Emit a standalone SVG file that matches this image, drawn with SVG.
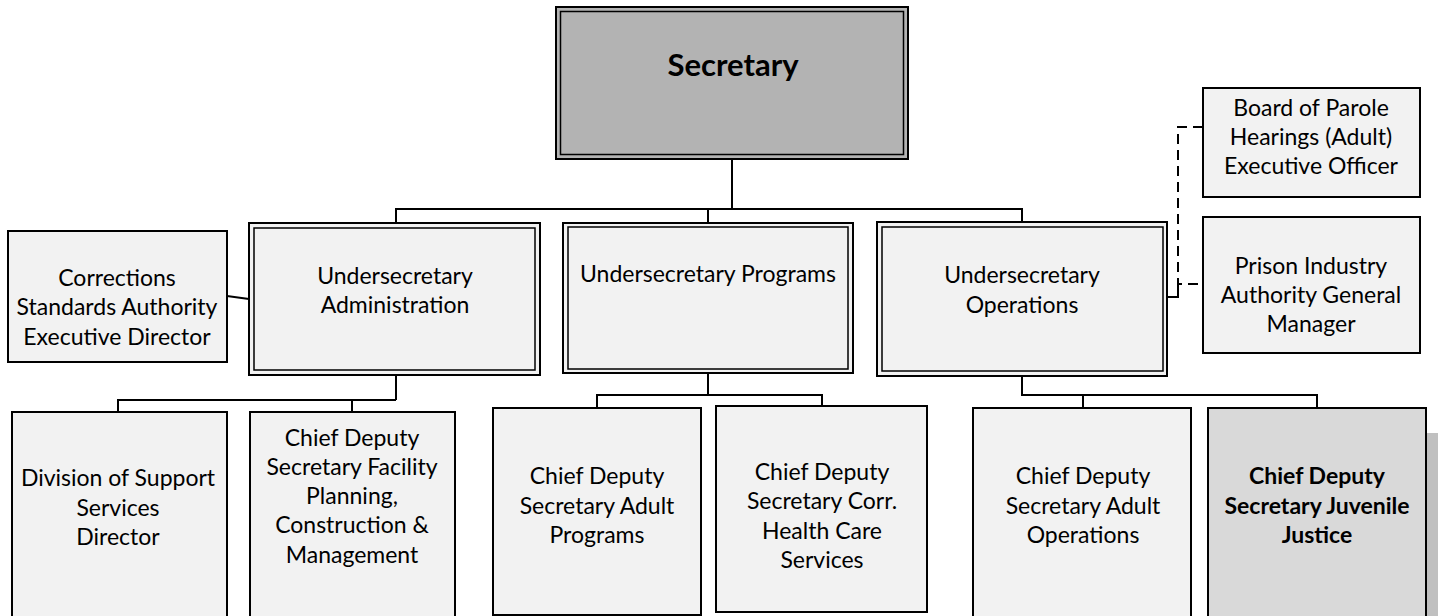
<svg xmlns="http://www.w3.org/2000/svg" width="1438" height="616" viewBox="0 0 1438 616">
<style>
  .box { fill: #f2f2f2; stroke: #000; stroke-width: 2; }
  .dbl { fill: none; stroke: #000; stroke-width: 1.5; }
  .t { font-family: Lato, "Liberation Sans", sans-serif; font-size: 23px; fill: #000; text-anchor: middle; }
  .b { font-weight: bold; }
  .ln { fill: none; stroke: #000; stroke-width: 2; }
  .dash { fill: none; stroke: #000; stroke-width: 2; stroke-dasharray: 10 6; }
</style>
<rect width="1438" height="616" fill="#fff"/>

<g id="connectors">
  <path class="ln" d="M732 158 V209 M396 222 V209 H1022 V222 M708 209 V222"/>
  <path class="ln" d="M227 296 L249 299"/>
  <path class="ln" d="M396 375 V400 M118 412 V400 H396 M352 400 V412"/>
  <path class="ln" d="M708 373 V395 M597 408 V395 H822 V406"/>
  <path class="ln" d="M1022 376 V395 H1317 V408 M1083 395 V408"/>
  <path class="ln" d="M1167 297 H1178 V284"/>
  <path class="dash" d="M1203 127 H1178 V284 H1203"/>
</g>

<g id="secretary">
  <rect x="556" y="7" width="352" height="152" fill="#b3b3b3" stroke="#000" stroke-width="2"/>
  <rect x="560.5" y="11.5" width="343" height="143" class="dbl"/>
  <text x="733" y="76" class="t b" style="font-size:31px">Secretary</text>
</g>

<g id="corrections">
  <rect x="8" y="231" width="219" height="131" class="box"/>
  <text class="t"><tspan x="117" y="286">Corrections</tspan><tspan x="117" y="315">Standards Authority</tspan><tspan x="117" y="345">Executive Director</tspan></text>
</g>

<g id="us-admin">
  <rect x="249" y="223" width="291" height="152" class="box" stroke-width="1.5"/>
  <rect x="254" y="228" width="281" height="142" class="dbl" stroke-width="2"/>
  <text class="t"><tspan x="395" y="284">Undersecretary</tspan><tspan x="395" y="313">Administration</tspan></text>
</g>

<g id="us-programs">
  <rect x="563" y="223" width="290" height="150" class="box" stroke-width="1.5"/>
  <rect x="568" y="227" width="280" height="142" class="dbl" stroke-width="2"/>
  <text x="708" y="282" class="t">Undersecretary Programs</text>
</g>

<g id="us-operations">
  <rect x="877" y="222" width="290" height="154" class="box" stroke-width="1.5"/>
  <rect x="882" y="227" width="281" height="144" class="dbl" stroke-width="2"/>
  <text class="t"><tspan x="1022" y="283">Undersecretary</tspan><tspan x="1022" y="313">Operations</tspan></text>
</g>

<g id="board-parole">
  <rect x="1203" y="88" width="217" height="109" class="box"/>
  <text class="t"><tspan x="1311" y="116">Board of Parole</tspan><tspan x="1311" y="145">Hearings (Adult)</tspan><tspan x="1311" y="174">Executive Officer</tspan></text>
</g>

<g id="prison-industry">
  <rect x="1203" y="217" width="217" height="136" class="box"/>
  <text class="t"><tspan x="1311" y="274">Prison Industry</tspan><tspan x="1311" y="303">Authority General</tspan><tspan x="1311" y="332">Manager</tspan></text>
</g>

<g id="support-services">
  <rect x="12" y="412" width="215" height="212" class="box"/>
  <text class="t"><tspan x="118" y="486">Division of Support</tspan><tspan x="118" y="516">Services</tspan><tspan x="118" y="545">Director</tspan></text>
</g>

<g id="facility">
  <rect x="250" y="412" width="205" height="212" class="box"/>
  <text class="t"><tspan x="352" y="446">Chief Deputy</tspan><tspan x="352" y="475">Secretary Facility</tspan><tspan x="352" y="504">Planning,</tspan><tspan x="352" y="533">Construction &amp;</tspan><tspan x="352" y="563">Management</tspan></text>
</g>

<g id="adult-programs">
  <rect x="493" y="408" width="208" height="207" class="box"/>
  <text class="t"><tspan x="597" y="484">Chief Deputy</tspan><tspan x="597" y="514">Secretary Adult</tspan><tspan x="597" y="543">Programs</tspan></text>
</g>

<g id="health-care">
  <rect x="716" y="406" width="211" height="206" class="box"/>
  <text class="t"><tspan x="822" y="480">Chief Deputy</tspan><tspan x="822" y="509">Secretary Corr.</tspan><tspan x="822" y="539">Health Care</tspan><tspan x="822" y="568">Services</tspan></text>
</g>

<g id="adult-operations">
  <rect x="973" y="408" width="218" height="216" class="box"/>
  <text class="t"><tspan x="1083" y="484">Chief Deputy</tspan><tspan x="1083" y="514">Secretary Adult</tspan><tspan x="1083" y="543">Operations</tspan></text>
</g>

<g id="juvenile-justice">
  <rect x="1427" y="433" width="14" height="190" fill="#c0c0c0"/>
  <rect x="1208" y="408" width="218" height="216" fill="#d9d9d9" stroke="#000" stroke-width="2"/>
  <text class="t b"><tspan x="1317" y="484">Chief Deputy</tspan><tspan x="1317" y="514">Secretary Juvenile</tspan><tspan x="1317" y="543">Justice</tspan></text>
</g>
</svg>
